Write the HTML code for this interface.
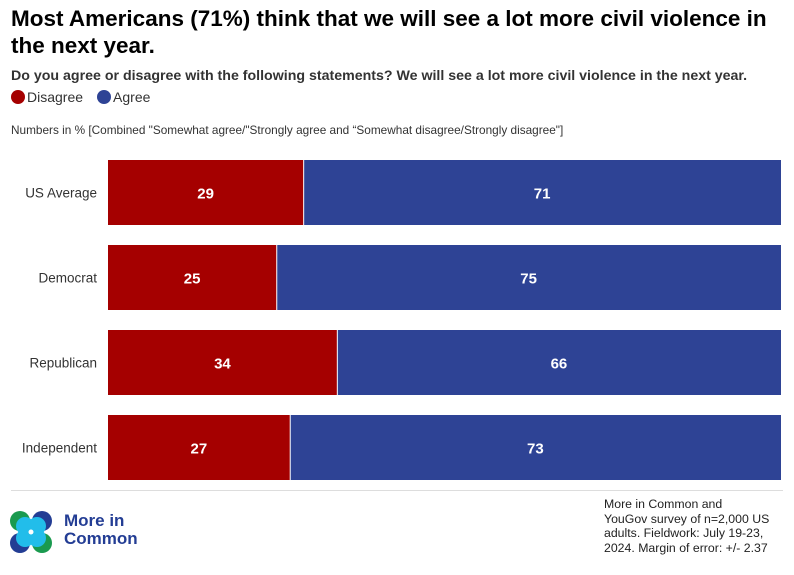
<!DOCTYPE html>
<html><head><meta charset="utf-8"><style>
body{margin:0;width:794px;height:575px;background:#fff;font-family:"Liberation Sans",sans-serif;overflow:hidden;position:relative}
.t{position:absolute;margin:0}
</style></head><body>
<h1 class="t" style="left:11px;top:5px;width:780px;font-size:22.5px;line-height:27px;font-weight:bold;color:#000">Most Americans (71%) think that we will see a lot more civil violence in the next year.</h1>
<div class="t" style="left:11px;top:68px;font-size:14.2px;font-weight:bold;color:#333;white-space:nowrap">Do you agree or disagree with the following statements? We will see a lot more civil violence in the next year.</div>
<div class="t" style="left:11px;top:89px;font-size:14px;color:#333;display:flex;align-items:center">
<span style="display:flex;align-items:center"><span style="width:14px;height:14px;border-radius:50%;background:#a50000;margin-right:2px"></span>Disagree</span>
<span style="display:flex;align-items:center;margin-left:14px"><span style="width:14px;height:14px;border-radius:50%;background:#2e4395;margin-right:2px"></span>Agree</span>
</div>
<div class="t" style="left:11px;top:123px;font-size:11.8px;color:#333;white-space:nowrap">Numbers in % [Combined "Somewhat agree/"Strongly agree and “Somewhat disagree/Strongly disagree"]</div>
<svg id="chart" width="794" height="575" style="position:absolute;left:0;top:0"></svg>
<div class="t" style="left:11px;top:490px;width:772px;height:1px;background:#ddd"></div>
<svg class="t" style="left:10px;top:511px" width="42" height="42" viewBox="0 0 42 42">
<circle cx="10" cy="10" r="10" fill="#1a9a4f"/><circle cx="32" cy="10" r="10" fill="#233d94"/><circle cx="10" cy="32" r="10" fill="#233d94"/><circle cx="32" cy="32" r="10" fill="#1a9a4f"/>
<circle cx="15" cy="15" r="9" fill="#22bdea"/><circle cx="27" cy="15" r="9" fill="#22bdea"/><circle cx="15" cy="27" r="9" fill="#22bdea"/><circle cx="27" cy="27" r="9" fill="#22bdea"/>
<circle cx="21" cy="21" r="2.5" fill="#fff"/>
</svg>
<div class="t" style="left:64px;top:512px;font-size:17px;line-height:18px;font-weight:bold;color:#233d94">More in<br>Common</div>
<div class="t" style="left:604px;top:497px;font-size:12.3px;line-height:14.7px;color:#222;width:180px">More in Common and<br>YouGov survey of n=2,000 US<br>adults. Fieldwork: July 19-23,<br>2024. Margin of error: +/- 2.37</div>
<script>
const categories=["US Average","Democrat","Republican","Independent"];
const disagree=[29,25,34,27];
const agree=[71,75,66,73];
const svg=document.getElementById('chart');
const NS='http://www.w3.org/2000/svg';
const x0=108,x1=781,top0=160,step=85,bh=65;
const total=i=>disagree[i]+agree[i];
function xs(v,i){return x0+(x1-x0)*v/total(i);}
function el(t,a){const e=document.createElementNS(NS,t);for(const k in a)e.setAttribute(k,a[k]);svg.appendChild(e);return e;}
categories.forEach((c,i)=>{
  const y=top0+i*step;
  const xd=xs(disagree[i],i);
  const r1=el('rect',{x:x0,y:y,width:xd-x0,height:bh,fill:'#a50000'});
  
  
  const r2=el('rect',{x:xd+1,y:y,width:x1-xd-1,height:bh,fill:'#2e4395'});
  
  
  const l=el('text',{x:97,y:y+bh/2+5,'text-anchor':'end','font-size':'13.5',fill:'#333'});
  l.textContent=c;
  
  
  const v1=el('text',{x:(x0+xd)/2,y:y+bh/2+6,'text-anchor':'middle','font-size':'15','font-weight':'bold',fill:'#fff'});
  v1.textContent=disagree[i];
  
  
  const v2=el('text',{x:(xd+x1)/2,y:y+bh/2+6,'text-anchor':'middle','font-size':'15','font-weight':'bold',fill:'#fff'});
  v2.textContent=agree[i];
  
  
});
</script>
</body></html>
